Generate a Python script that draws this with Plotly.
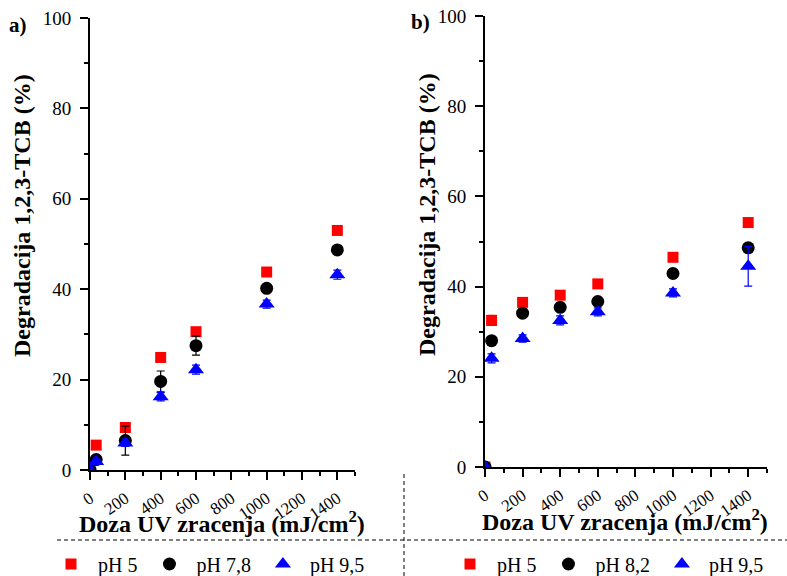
import plotly.graph_objects as go

# ---------------- data ----------------
dose = [0, 35, 200, 400, 600, 1000, 1400]

# panel a
a_ph5 = [0, 5.5, 9.4, 24.9, 30.6, 43.8, 53.0]
a_ph5_err = [0, 0.3, 0.5, 0.3, 0.3, 0.3, 0.3]
a_ph78 = [0, 2.3, 6.5, 19.6, 27.5, 40.2, 48.7]
a_ph78_err = [0, 0.5, 3.2, 2.3, 2.1, 0.6, 0.5]
a_ph95 = [0, 1.9, 6.0, 16.2, 22.2, 36.7, 43.2]
a_ph95_err = [0, 0.5, 0.8, 0.9, 1.0, 0.9, 1.0]

# panel b
b_ph5 = [0, 32.5, 36.5, 38.1, 40.6, 46.5, 54.2]
b_ph5_err = [0, 1.1, 0.3, 0.3, 0.3, 0.3, 0.3]
b_ph82 = [0, 28.0, 34.1, 35.4, 36.7, 42.9, 48.6]
b_ph82_err = [0, 0.5, 0.5, 0.5, 0.5, 0.9, 0.9]
b_ph95 = [0, 24.1, 28.5, 32.5, 34.4, 38.6, 44.5]
b_ph95_err = [0, 1.0, 0.8, 1.0, 0.9, 0.9, 4.4]

x_ticks = [0, 200, 400, 600, 800, 1000, 1200, 1400]
y_ticks = [0, 20, 40, 60, 80, 100]

RED = "#ff0000"
BLACK = "#000000"
BLUE = "#0000ff"
SERIF = "'Liberation Serif', 'Times New Roman', Times, serif"

fig = go.Figure()


def add_series(x, y, err, color, symbol, size, name, xa, ya, legend):
    fig.add_trace(go.Scatter(
        x=x, y=y, mode="markers", name=name,
        xaxis=xa, yaxis=ya, legend=legend,
        marker=dict(color=color, symbol=symbol, size=size, line=dict(width=0)),
        error_y=dict(type="data", array=err, visible=True, color=color,
                     thickness=1.2, width=4),
    ))


add_series(dose, a_ph5, a_ph5_err, RED, "square", 11, "pH 5", "x", "y", "legend")
add_series(dose, a_ph78, a_ph78_err, BLACK, "circle", 13, "pH 7,8", "x", "y", "legend")
add_series(dose, a_ph95, a_ph95_err, BLUE, "triangle-up", 14, "pH 9,5", "x", "y", "legend")

add_series(dose, b_ph5, b_ph5_err, RED, "square", 11, "pH 5", "x2", "y2", "legend2")
add_series(dose, b_ph82, b_ph82_err, BLACK, "circle", 13, "pH 8,2", "x2", "y2", "legend2")
add_series(dose, b_ph95, b_ph95_err, BLUE, "triangle-up", 14, "pH 9,5", "x2", "y2", "legend2")

xcommon = dict(
    range=[0, 1500], tickvals=x_ticks, ticktext=[str(v) for v in x_ticks],
    tickangle=-35, ticks="outside", ticklen=8, tickwidth=1.5, tickcolor="black",
    showline=True, linecolor="black", linewidth=1.8, showgrid=False, zeroline=False,
    automargin=False, ticklabelstandoff=2,
    minor=dict(ticks="outside", ticklen=4, tickwidth=1.5, tickcolor="black", dtick=100, tick0=0, showgrid=False),
    tickfont=dict(family=SERIF, size=17, color="black"),
)
ycommon = dict(
    range=[0, 100], tickvals=y_ticks, ticks="outside", ticklen=8, tickwidth=1.5, tickcolor="black",
    showline=True, linecolor="black", linewidth=1.8, showgrid=False, zeroline=False,
    automargin=False, ticklabelstandoff=5,
    minor=dict(ticks="outside", ticklen=4, tickwidth=1.5, tickcolor="black", dtick=10, tick0=0, showgrid=False),
    tickfont=dict(family=SERIF, size=19, color="black"),
)

W, H = 787, 576

legend_common = dict(orientation="h", xanchor="left", y=1 - 564 / H, yanchor="middle",
                     font=dict(family=SERIF, size=20, color="black"), bgcolor="rgba(0,0,0,0)",
                     itemclick=False, itemwidth=44)

fig.update_layout(
    width=W, height=H,
    margin=dict(l=0, r=0, t=0, b=0, autoexpand=False),
    paper_bgcolor="white", plot_bgcolor="white",
    font=dict(family=SERIF, color="black"),
    xaxis=dict(domain=[90 / W, 355 / W], anchor="y", **xcommon),
    yaxis=dict(domain=[1 - 470 / H, 1 - 18 / H], anchor="x", **ycommon),
    xaxis2=dict(domain=[485 / W, 767 / W], anchor="y2", **xcommon),
    yaxis2=dict(domain=[1 - 467 / H, 1 - 16 / H], anchor="x2", **ycommon),
    legend=dict(x=44 / W, **legend_common),
    legend2=dict(x=443 / W, **legend_common),
    showlegend=True,
)

ann_font_bold = dict(family=SERIF, size=21, color="black")
title_font = dict(family=SERIF, size=24, color="black")
annotations = [
    dict(text="<b>a)</b>", x=18 / W, y=1 - 25 / H, xref="paper", yref="paper",
         showarrow=False, font=ann_font_bold, xanchor="center", yanchor="middle"),
    dict(text="<b>b)</b>", x=420 / W, y=1 - 22 / H, xref="paper", yref="paper",
         showarrow=False, font=ann_font_bold, xanchor="center", yanchor="middle"),
    dict(text="<b>Degradacija 1,2,3-TCB (%)</b>", x=22 / W, y=1 - 216 / H, xref="paper", yref="paper",
         showarrow=False, textangle=-90, font=title_font, xanchor="center", yanchor="middle"),
    dict(text="<b>Degradacija 1,2,3-TCB (%)</b>", x=427 / W, y=1 - 214 / H, xref="paper", yref="paper",
         showarrow=False, textangle=-90, font=title_font, xanchor="center", yanchor="middle"),
    dict(text="<b>Doza UV zracenja (mJ/cm<sup>2</sup>)</b>", x=222 / W, y=1 - 522 / H, xref="paper", yref="paper",
         showarrow=False, font=title_font, xanchor="center", yanchor="middle"),
    dict(text="<b>Doza UV zracenja (mJ/cm<sup>2</sup>)</b>", x=625 / W, y=1 - 520 / H, xref="paper", yref="paper",
         showarrow=False, font=title_font, xanchor="center", yanchor="middle"),
]
fig.update_layout(annotations=annotations)

shapes = [
    dict(type="line", xref="paper", yref="paper", x0=57 / W, x1=1, y0=1 - 540 / H, y1=1 - 540 / H,
         line=dict(color="black", width=1, dash="4px,3px")),
    dict(type="line", xref="paper", yref="paper", x0=404 / W, x1=404 / W, y0=1 - 474 / H, y1=0,
         line=dict(color="black", width=1, dash="4px,3px")),
]
fig.update_layout(shapes=shapes)

fig.write_html("out.html")
